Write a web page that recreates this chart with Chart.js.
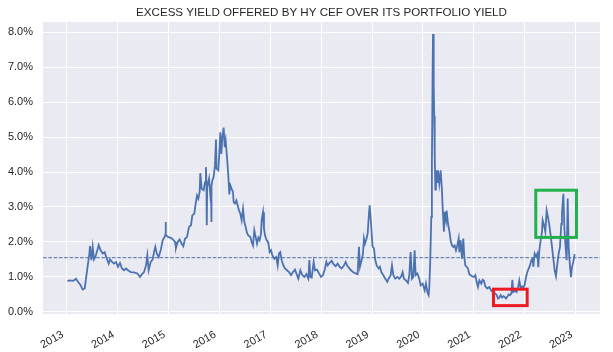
<!DOCTYPE html>
<html><head><meta charset="utf-8">
<script src="https://cdn.jsdelivr.net/npm/chart.js@4.4.1/dist/chart.umd.min.js"></script>
<style>html,body{margin:0;padding:0;background:#fff}#wrap{width:613px;height:352px}</style>
</head><body><div id="wrap"><canvas id="c" width="613" height="352"></canvas></div>
<script>
const chartTitle = 'EXCESS YIELD OFFERED BY HY CEF OVER ITS PORTFOLIO YIELD';
// decimal-year dates
const dates = [
2013.012,2013.065,2013.130,2013.183,2013.229,2013.274,2013.314,2013.353,2013.379,2013.405,
2013.445,2013.458,2013.484,2013.510,2013.536,2013.562,2013.602,2013.628,2013.667,2013.707,
2013.746,2013.785,2013.825,2013.851,2013.890,2013.929,2013.969,2014.008,2014.047,2014.086,
2014.126,2014.165,2014.204,2014.257,2014.322,2014.388,2014.440,2014.479,2014.519,2014.558,
2014.584,2014.610,2014.650,2014.689,2014.715,2014.741,2014.768,2014.807,2014.846,2014.886,
2014.925,2014.936,2014.942,2014.950,2014.977,2014.997,2015.049,2015.088,2015.128,2015.147,
2015.180,2015.219,2015.259,2015.291,2015.324,2015.363,2015.403,2015.442,2015.468,2015.507,
2015.534,2015.560,2015.586,2015.612,2015.625,2015.652,2015.691,2015.717,2015.735,2015.745,
2015.752,2015.760,2015.796,2015.822,2015.835,2015.841,2015.848,2015.861,2015.887,2015.913,
2015.933,2015.943,2015.979,2016.005,2016.018,2016.038,2016.058,2016.084,2016.104,2016.123,
2016.149,2016.175,2016.195,2016.215,2016.241,2016.267,2016.280,2016.306,2016.333,2016.359,
2016.385,2016.411,2016.437,2016.464,2016.490,2016.516,2016.542,2016.568,2016.608,2016.634,
2016.660,2016.686,2016.713,2016.739,2016.765,2016.791,2016.817,2016.830,2016.857,2016.876,
2016.896,2016.922,2016.961,2016.988,2017.014,2017.040,2017.079,2017.118,2017.145,2017.171,
2017.197,2017.223,2017.256,2017.289,2017.328,2017.367,2017.407,2017.446,2017.485,2017.525,
2017.551,2017.590,2017.629,2017.669,2017.708,2017.747,2017.767,2017.787,2017.813,2017.852,
2017.878,2017.917,2017.957,2017.996,2018.035,2018.075,2018.101,2018.127,2018.166,2018.206,
2018.245,2018.284,2018.323,2018.363,2018.402,2018.441,2018.481,2018.507,2018.546,2018.585,
2018.624,2018.664,2018.716,2018.742,2018.762,2018.795,2018.821,2018.840,2018.860,2018.886,
2018.913,2018.939,2018.952,2018.980,2019.008,2019.037,2019.063,2019.090,2019.129,2019.155,
2019.181,2019.221,2019.260,2019.299,2019.325,2019.365,2019.391,2019.417,2019.456,2019.495,
2019.535,2019.574,2019.600,2019.626,2019.665,2019.705,2019.731,2019.757,2019.783,2019.809,
2019.836,2019.855,2019.888,2019.927,2019.954,2019.993,2020.032,2020.058,2020.085,2020.111,
2020.124,2020.143,2020.163,2020.175,2020.190,2020.197,2020.207,2020.214,2020.220,2020.226,
2020.230,2020.236,2020.243,2020.255,2020.281,2020.294,2020.321,2020.347,2020.373,2020.386,
2020.412,2020.425,2020.452,2020.465,2020.491,2020.517,2020.543,2020.570,2020.596,2020.622,
2020.648,2020.674,2020.701,2020.714,2020.740,2020.766,2020.792,2020.812,2020.832,2020.858,
2020.884,2020.910,2020.937,2020.963,2021.002,2021.028,2021.054,2021.081,2021.107,2021.146,
2021.172,2021.198,2021.225,2021.264,2021.303,2021.343,2021.382,2021.421,2021.448,2021.474,
2021.500,2021.526,2021.552,2021.579,2021.605,2021.631,2021.657,2021.683,2021.710,2021.736,
2021.756,2021.775,2021.815,2021.841,2021.867,2021.893,2021.919,2021.946,2021.972,2021.998,
2022.024,2022.050,2022.077,2022.103,2022.129,2022.155,2022.168,2022.194,2022.221,2022.247,
2022.266,2022.286,2022.312,2022.338,2022.351,2022.378,2022.404,2022.430,2022.456,2022.482,
2022.509,2022.535,2022.561,2022.587,2022.613,2022.640,2022.666,2022.692,2022.718,2022.731,
2022.758,2022.777,2022.797,2022.823,2022.843,2022.862,2022.889,2022.908,2022.928,2022.954,
2022.980
];
// excess yield, percent
const excessYield = [
0.89,0.90,0.89,0.95,0.85,0.76,0.64,0.67,0.95,1.24,
1.67,1.88,1.48,1.86,1.50,1.57,1.76,1.91,1.76,1.67,
1.71,1.53,1.38,1.50,1.43,1.38,1.43,1.29,1.40,1.24,
1.19,1.24,1.19,1.14,1.13,1.10,1.00,1.08,1.14,1.33,
1.62,1.19,1.43,1.50,1.71,1.86,1.67,1.57,1.76,2.05,
2.15,2.20,2.57,2.19,2.16,2.14,2.12,2.07,2.00,1.83,
2.00,2.07,1.95,1.88,2.09,2.14,2.43,2.48,2.76,2.81,
3.10,3.33,3.24,3.43,3.97,3.52,3.48,3.71,4.14,3.70,
2.48,3.57,3.81,3.33,3.45,2.57,3.60,3.76,3.86,4.19,
4.93,4.10,4.05,4.71,5.14,4.52,5.00,5.27,4.71,4.90,
4.43,3.90,3.36,3.62,3.52,3.43,3.14,3.10,3.19,3.05,
2.90,2.81,2.62,2.95,2.57,2.43,2.26,2.19,2.14,2.00,
1.90,2.33,2.14,1.95,2.12,2.05,2.24,2.62,2.85,2.38,
2.19,2.07,1.98,1.71,1.76,1.62,1.52,1.57,1.33,1.67,
1.71,1.48,1.33,1.24,1.19,1.14,1.05,1.14,1.21,1.05,
0.95,1.19,1.05,1.00,1.08,0.95,1.48,1.00,0.98,1.43,
1.19,1.21,1.10,1.00,1.05,1.24,1.43,1.33,1.40,1.46,
1.36,1.31,1.38,1.29,1.24,1.31,1.43,1.33,1.26,1.19,
1.14,1.11,1.08,1.86,1.29,1.48,1.67,2.10,1.95,2.07,
2.24,2.81,3.05,2.52,1.88,1.81,1.48,1.33,1.24,1.29,
1.14,1.05,0.95,0.86,0.95,1.05,1.33,1.05,0.95,1.00,
0.95,1.02,1.14,0.95,0.90,0.83,1.05,1.71,0.95,1.00,
1.76,1.05,1.10,0.95,0.76,0.81,0.62,0.81,0.57,0.48,
0.71,1.48,2.71,4.20,7.00,7.95,7.90,6.50,5.60,4.75,
5.50,4.46,3.50,4.05,3.71,4.05,3.67,4.05,3.48,3.00,
2.29,2.86,2.62,2.90,2.52,2.33,2.05,1.90,1.86,1.90,
1.76,1.90,2.10,1.71,2.05,1.52,2.10,1.57,1.33,1.29,
1.24,1.08,1.05,1.02,1.00,1.05,0.86,0.71,0.90,0.81,
0.92,0.89,0.73,0.67,0.71,0.60,0.57,0.52,0.48,0.38,
0.41,0.48,0.41,0.45,0.43,0.38,0.43,0.50,0.48,0.52,
0.92,0.57,0.60,0.57,0.69,0.90,0.67,0.73,0.69,0.78,
0.99,1.14,1.24,1.33,1.48,1.52,1.29,1.67,1.59,1.67,
1.28,1.76,2.05,2.29,2.62,2.48,2.29,2.90,2.71,2.48,
2.19,1.86,1.52,1.19,1.02,1.38,1.67,1.86,2.52,2.81,
3.38,2.43,1.95,1.48,3.24,1.86,1.28,0.99,1.29,1.43,
1.65
];
const yearTicks = [2013,2014,2015,2016,2017,2018,2019,2020,2021,2022,2023];
const yieldTicks = [0,1,2,3,4,5,6,7,8];
const averageLevel = 1.55;
const xRange = [2012.534, 2023.478];
const yRange = [-0.06, 8.29];
// highlighted regions (data units)
const lowBox = {from: 2021.385, to: 2022.047, low: 0.18, high: 0.65};
const highBox = {from: 2022.216, to: 2023.016, low: 2.13, high: 3.48};

const FONT = '"Liberation Sans", Arial, Helvetica, sans-serif';
Chart.defaults.font.family = FONT;
Chart.defaults.color = '#262626';

const bgPlugin = {
  id: 'bg',
  beforeDraw(chart) {
    const {ctx, chartArea: a} = chart;
    ctx.save(); ctx.fillStyle = '#EAEAF2';
    ctx.fillRect(a.left, a.top, a.right - a.left, a.bottom - a.top);
    ctx.restore();
  }
};
const boxPlugin = {
  id: 'boxes',
  afterDatasetsDraw(chart) {
    const {ctx, scales: {x, y}} = chart;
    const draw = (b, color) => {
      const x0 = x.getPixelForValue(b.from), x1 = x.getPixelForValue(b.to);
      const y0 = y.getPixelForValue(b.high), y1 = y.getPixelForValue(b.low);
      ctx.save(); ctx.strokeStyle = color; ctx.lineWidth = 3;
      ctx.strokeRect(x0, y0, x1 - x0, y1 - y0); ctx.restore();
    };
    draw(lowBox, '#ED1C24');
    draw(highBox, '#22B14C');
  }
};

new Chart(document.getElementById('c'), {
  type: 'line',
  data: {
    datasets: [
      {
        data: dates.map((d, i) => ({x: d, y: excessYield[i]})),
        borderColor: '#4C72B0', borderWidth: 1.8, pointRadius: 0, tension: 0, fill: false
      },
      {
        data: [{x: xRange[0], y: averageLevel}, {x: xRange[1], y: averageLevel}],
        borderColor: '#4C72B0', borderWidth: 1, borderDash: [3.7, 1.6], pointRadius: 0, fill: false
      }
    ]
  },
  options: {
    responsive: false, animation: false, devicePixelRatio: 1,
    layout: {padding: {left: 0, right: 13, top: 0, bottom: 0}},
    plugins: {
      legend: {display: false}, tooltip: {enabled: false},
      title: {display: true, fullSize: false, text: chartTitle, color: '#262626',
        font: {size: 11.6, weight: 'normal', family: FONT}, padding: {top: 6, bottom: 2.1}}
    },
    scales: {
      x: {
        type: 'linear', min: xRange[0], max: xRange[1],
        afterBuildTicks: s => { s.ticks = yearTicks.map(v => ({value: v})); },
        afterFit: s => { s.height = 38; },
        grid: {color: '#ffffff', lineWidth: 1, drawTicks: false},
        border: {display: false},
        ticks: {autoSkip: false, minRotation: 30, maxRotation: 30, padding: 14, labelOffset: -4,
          color: '#262626', font: {size: 11}, callback: v => String(v)}
      },
      y: {
        type: 'linear', min: yRange[0], max: yRange[1],
        afterBuildTicks: s => { s.ticks = yieldTicks.map(v => ({value: v})); },
        afterFit: s => { s.width = 43; },
        grid: {color: '#ffffff', lineWidth: 1, drawTicks: false},
        border: {display: false},
        ticks: {padding: 10, color: '#262626', font: {size: 11},
          callback: v => v.toFixed(1) + '%'}
      }
    }
  },
  plugins: [bgPlugin, boxPlugin]
});
</script></body></html>
